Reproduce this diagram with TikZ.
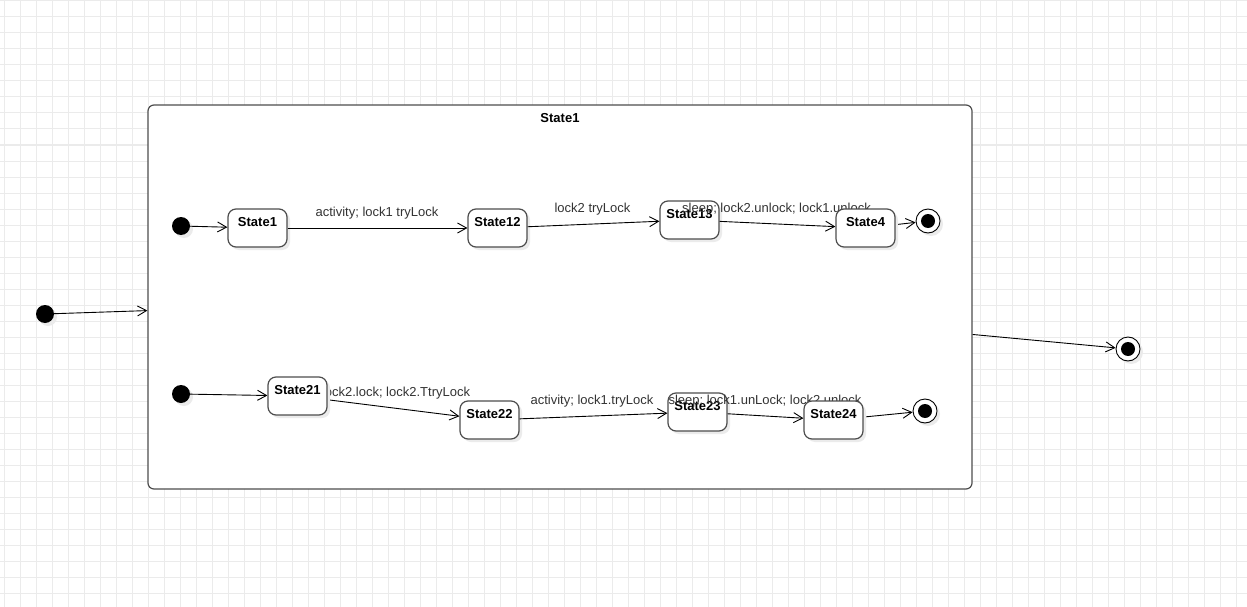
\documentclass[tikz,border=0pt]{standalone}
\usepackage{fontspec}
\setmainfont{Liberation Sans}
\usetikzlibrary{arrows.meta,shadows}
\definecolor{gridc}{HTML}{EBEBEB}
\definecolor{bord}{HTML}{4D4D4D}
\definecolor{lbl}{HTML}{333333}
\pgfdeclarelayer{front}
\pgfsetlayers{main,front}
\begin{document}
\begin{tikzpicture}[x=1pt,y=-1pt,
  shad/.style={drop shadow={shadow xshift=3pt,shadow yshift=-3pt,fill=black!8,opacity=1}},
  statebox/.style={draw=bord,line width=1.2pt,fill=white,rounded corners=8pt,minimum width=59pt,minimum height=38pt,inner sep=0pt,shad},
  statelbl/.style={font=\fontsize{13}{15}\selectfont\bfseries,inner sep=0pt,anchor=center,yshift=-1.5pt},
  initdot/.style={circle,fill=black,minimum size=18pt,inner sep=0pt,shad},
  finout/.style={circle,draw=black,line width=0.9pt,fill=white,minimum size=24pt,inner sep=0pt,shad},
  finin/.style={circle,fill=black,minimum size=14pt,inner sep=0pt},
  edge/.style={draw=black,line width=0.9pt,-{Straight Barb[length=9pt,width=10pt,line width=0.9pt]}},
  elbl/.style={font=\fontsize{13}{15}\selectfont,text=lbl,inner sep=0pt,anchor=center,yshift=-1.5pt},
  container/.style={draw=bord,line width=1.2pt,fill=white,rounded corners=6pt,minimum width=824pt,minimum height=384pt,inner sep=0pt}
]
\useasboundingbox (0,0) rectangle (1247,607);
\fill[white] (0,0) rectangle (1247,607);
% grid
\foreach \k in {0,...,77} {\draw[gridc,line width=1pt] (4+16*\k,0) -- (4+16*\k,607);}
\foreach \k in {0,...,37} {\draw[gridc,line width=1pt] (0,1+16*\k) -- (1247,1+16*\k);}

% container
\node[container] (c) at (560,297) {};
\node[statelbl] (ct) at (560,117) {State1};

% outer initial and final
\node[initdot] (i0) at (45,314) {};
\node[finout] (f0) at (1128,349) {};
\node[finin] (f0i) at (1128,349) {};
\draw[edge] (i0) -- (c);
\draw[edge] (c) -- (f0);

% row 1 states (below labels)
\node[statebox] (s13) at (689.5,220) {};
\node[statelbl] (s13l) at (689.5,213) {State13};
\node[statebox] (s1) at (257.5,228) {};
\node[statelbl] (s1l) at (257.5,221) {State1};
\node[statebox] (s12) at (497.5,228) {};
\node[statelbl] (s12l) at (497.5,221) {State12};
\node[initdot] (i1) at (181,226) {};
\node[finout] (f1) at (928,221) {};
\node[finin] (f1i) at (928,221) {};

% row 2 states (below labels)
\node[statebox] (s23) at (697.5,412) {};
\node[statelbl] (s23l) at (697.5,405) {State23};
\node[statebox] (s22) at (489.5,420) {};
\node[statelbl] (s22l) at (489.5,413) {State22};
\node[initdot] (i2) at (181,394) {};
\node[finout] (f2) at (925,411) {};
\node[finin] (f2i) at (925,411) {};

% front states
\begin{pgfonlayer}{front}
\node[statebox] (s4) at (865.5,228) {};
\node[statelbl] (s4l) at (865.5,221) {State4};
\node[statebox] (s21) at (297.5,396) {};
\node[statelbl] (s21l) at (297.5,389) {State21};
\node[statebox] (s24) at (833.5,420) {};
\node[statelbl] (s24l) at (833.5,413) {State24};
\end{pgfonlayer}

% row 1 edges
\draw[edge] (i1) -- (s1);
\draw[edge] (s1) -- (s12);
\draw[edge] (s12) -- (s13);
\draw[edge] (s13) -- (s4);
\draw[edge] (s4) -- (f1);
\node[elbl] (e1) at (377,212) {activity; lock1 tryLock};
\node[elbl] (e2) at (592.5,208) {lock2 tryLock};
\node[elbl] (e3) at (776.5,208) {sleep; lock2.unlock; lock1.unlock};

% row 2 edges
\draw[edge] (i2) -- (s21);
\draw[edge] (s21) -- (s22);
\draw[edge] (s22) -- (s23);
\draw[edge] (s23) -- (s24);
\draw[edge] (s24) -- (f2);
\node[elbl] (e4) at (396,392) {lock2.lock; lock2.TtryLock};
\node[elbl] (e5) at (592,400) {activity; lock1.tryLock};
\node[elbl] (e6) at (765,400) {sleep; lock1.unLock; lock2.unlock};
\end{tikzpicture}
\end{document}
